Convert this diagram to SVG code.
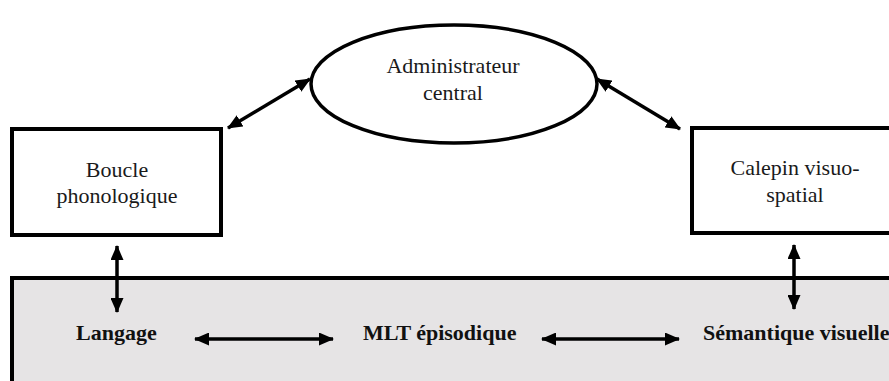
<svg xmlns="http://www.w3.org/2000/svg" width="889" height="381" viewBox="0 0 889 381">
<style>
.box{fill:#fff;stroke:#000;stroke-width:4}
.ell{fill:#fff;stroke:#000;stroke-width:3.5}
.mem{fill:#e6e4e5;stroke:#000;stroke-width:4}
.t{font-family:"Liberation Serif","Times New Roman",serif;font-size:22px;fill:#1a1a1a;text-anchor:middle}
.b{font-family:"Liberation Serif","Times New Roman",serif;font-size:22px;font-weight:bold;fill:#111}
.c{stroke:#000;stroke-width:3.5;fill:none;marker-start:url(#ah);marker-end:url(#ah)}
</style>
<defs>
<marker id="ah" viewBox="0 0 15 13" refX="14" refY="6.5" markerWidth="15" markerHeight="13" markerUnits="userSpaceOnUse" orient="auto-start-reverse">
<path d="M0,0 L15,6.5 L0,13 z" fill="#000"/>
</marker>
</defs>
<g id="memoire">
<rect class="mem" x="12" y="278" width="900" height="130"/>
</g>
<g id="administrateur">
<ellipse class="ell" cx="454" cy="84" rx="143" ry="59"/>
<text class="t" x="453" y="73">Administrateur</text>
<text class="t" x="453" y="100">central</text>
</g>
<g id="boucle">
<rect class="box" x="12" y="129" width="209" height="106"/>
<text class="t" x="117" y="177">Boucle</text>
<text class="t" x="117" y="203">phonologique</text>
</g>
<g id="calepin">
<rect class="box" x="692" y="128" width="220" height="105"/>
<text class="t" x="795" y="175">Calepin visuo-</text>
<text class="t" x="795" y="202">spatial</text>
</g>
<g id="langage"><text class="b" x="76" y="340">Langage</text></g>
<g id="mlt"><text class="b" x="363" y="340">MLT épisodique</text></g>
<g id="semantique"><text class="b" x="703" y="340">Sémantique visuelle</text></g>
<g id="connectors">
<line class="c" x1="228" y1="128" x2="310" y2="79"/>
<line class="c" x1="597" y1="79" x2="680" y2="129"/>
<line class="c" x1="117" y1="246" x2="117" y2="312"/>
<line class="c" x1="794" y1="245" x2="794" y2="309"/>
<line class="c" x1="195" y1="339" x2="333" y2="339"/>
<line class="c" x1="542" y1="339" x2="679" y2="339"/>
</g>
</svg>
